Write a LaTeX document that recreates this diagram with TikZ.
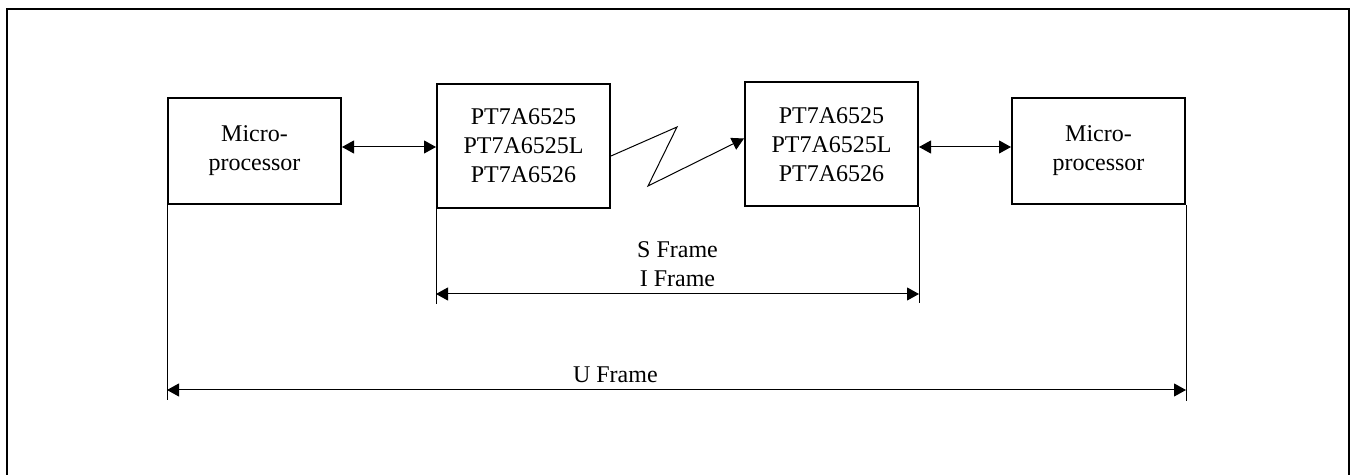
\documentclass[tikz,border=0pt]{standalone}
\usepackage{fontspec}
\setmainfont{Liberation Serif}
\usetikzlibrary{arrows.meta}
\tikzset{
  blk/.style={draw,line width=1pt,minimum width=86.5pt,inner sep=0pt,align=center,font=\fontsize{12}{14.5}\selectfont},
  tri/.style={line width=.5pt,-{Triangle[length=6pt,width=6.5pt]}},
  dim/.style={line width=.5pt,{Triangle[length=6pt,width=6.5pt]}-{Triangle[length=6pt,width=6.5pt]}},
  lbl/.style={font=\fontsize{12}{14.5}\selectfont,align=center}
}
\begin{document}
\begin{tikzpicture}[x=.5pt,y=-.5pt]
    \useasboundingbox (0,0) rectangle (1351,475);
    \draw[line width=1pt] (7,480) -- (7,9) -- (1349,9) -- (1349,480);
    \node[blk,minimum height=53pt] (micL) at (254.5,151) {Micro-\\processor};
    \node[blk,minimum height=62pt] (chipL) at (523.5,146) {PT7A6525\\PT7A6525L\\PT7A6526};
    \node[blk,minimum height=62pt] (chipR) at (831.5,144.5) {PT7A6525\\PT7A6525L\\PT7A6526};
    \node[blk,minimum height=53pt] (micR) at (1098.5,151) {Micro-\\processor};
    \draw[dim] ([yshift=2pt]micL.east) -- ([yshift=2pt]micL.east -| chipL.west);
    \draw[dim] ([yshift=2pt]micR.west -| chipR.east) -- ([yshift=2pt]micR.west);
    \draw[tri] ([yshift=-5pt]chipL.east) -- (677,127) -- (648,186) -- ([yshift=3pt]chipR.west);
    \draw[line width=.5pt] (chipL.south west) -- ++(0,95) coordinate (iL);
    \draw[line width=.5pt] (chipR.south east) -- ++(0,96) coordinate (iR);
    \draw[dim] ([yshift=5pt]iL) -- node[lbl,above] {S Frame\\I Frame} ([yshift=5pt]iL -| iR);
    \draw[line width=.5pt] (micL.south west) -- ++(0,195) coordinate (uL);
    \draw[line width=.5pt] (micR.south east) -- ++(0,196) coordinate (uR);
    \draw[dim] ([yshift=5pt]uL) -- node[lbl,above,pos=.44] {U Frame} ([yshift=5pt]uL -| uR);
  \end{tikzpicture}
\end{document}
